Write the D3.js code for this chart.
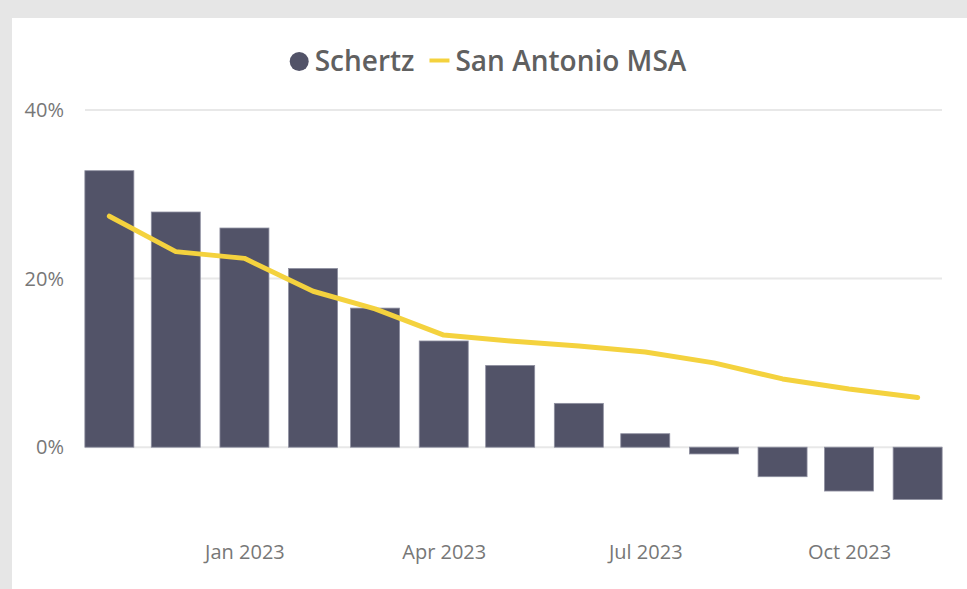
<!DOCTYPE html>
<html>
<head>
<meta charset="utf-8">
<script src="https://cdn.jsdelivr.net/npm/d3@7/dist/d3.min.js"></script>
<style>
  html, body { margin: 0; padding: 0; background: #e6e6e6; }
  svg { display: block; }
  text { font-family: "Open Sans", "Noto Sans", sans-serif; }
</style>
</head>
<body>
<svg id="chart" width="967" height="589"></svg>
<script>
// Monthly year-over-year change, Nov 2022 – Nov 2023
const months = ["2022-11", "2022-12", "2023-01", "2023-02", "2023-03", "2023-04", "2023-05",
                "2023-06", "2023-07", "2023-08", "2023-09", "2023-10", "2023-11"];
const schertz = [32.8, 27.9, 26.0, 21.2, 16.5, 12.6, 9.7, 5.2, 1.6, -0.8, -3.5, -5.2, -6.2];
const sanAntonio = [27.4, 23.2, 22.4, 18.5, 16.4, 13.3, 12.6, 12.0, 11.3, 10.0, 8.1, 6.9, 5.9];
const yTicks = [0, 20, 40];
const xTicks = ["2023-01", "2023-04", "2023-07", "2023-10"];
const seriesNames = ["Schertz", "San Antonio MSA"];

const parseMonth = d3.timeParse("%Y-%m");
const dates = months.map(parseMonth);

const svg = d3.select("#chart");
const W = 967, H = 589;

// white card
svg.append("rect").attr("x", 12).attr("y", 18).attr("width", W - 12).attr("height", H - 18).attr("fill", "#ffffff");

const x = d3.scaleTime()
  .domain([d3.timeDay.offset(dates[0], -11), d3.timeDay.offset(dates[dates.length - 1], 11)])
  .range([85, 942]);
const y = d3.scaleLinear().domain([-10, 40]).range([531.5, 110]);
const barW = 49;

// gridlines
svg.append("g").selectAll("line").data(yTicks).join("line")
  .attr("x1", 85).attr("x2", 942)
  .attr("y1", d => y(d)).attr("y2", d => y(d))
  .attr("stroke", "#e8e8e8").attr("stroke-width", 2);

// y axis labels
const yAxis = d3.axisLeft(y).tickValues(yTicks).tickFormat(d => d + "%").tickSize(0).tickPadding(0);
const gy = svg.append("g").attr("transform", "translate(64,0)").call(yAxis);
gy.select(".domain").remove();
gy.selectAll("text").attr("fill", "#777777").style("font-size", "20px").style("font-family", "'Open Sans', sans-serif");

// x axis labels
const xAxis = d3.axisBottom(x).tickValues(xTicks.map(parseMonth)).tickFormat(d3.timeFormat("%b %Y")).tickSize(0).tickPadding(0);
const gx = svg.append("g").attr("transform", "translate(0,545)").call(xAxis);
gx.select(".domain").remove();
gx.selectAll("text").attr("fill", "#777777").style("font-size", "20px").style("font-family", "'Open Sans', sans-serif");

// bars
svg.append("g").selectAll("rect").data(schertz).join("rect")
  .attr("x", (d, i) => x(dates[i]) - barW / 2)
  .attr("width", barW)
  .attr("y", d => y(Math.max(0, d)))
  .attr("height", d => Math.abs(y(d) - y(0)))
  .attr("fill", "#525368")
  .attr("stroke", "#8e8fa0")
  .attr("stroke-width", 0.8);

// line
const line = d3.line().x((d, i) => x(dates[i])).y(d => y(d));
svg.append("path").datum(sanAntonio)
  .attr("d", line)
  .attr("fill", "none")
  .attr("stroke", "#f4d23e")
  .attr("stroke-width", 5)
  .attr("stroke-linejoin", "round")
  .attr("stroke-linecap", "round");

// legend
const legend = svg.append("g");
const ly = 61.5;
const t1 = legend.append("text").text(seriesNames[0])
  .attr("y", ly).attr("dy", "0.35em")
  .attr("fill", "#606060").style("font-size", "28px").style("font-weight", 600);
const t2 = legend.append("text").text(seriesNames[1])
  .attr("y", ly).attr("dy", "0.35em")
  .attr("fill", "#606060").style("font-size", "28px").style("font-weight", 600);
const w1 = t1.node().getComputedTextLength();
const w2 = t2.node().getComputedTextLength();
const r = 9.5, gapA = 6, gapB = 15, dashW = 20, gapC = 6;
const total = 2 * r + gapA + w1 + gapB + dashW + gapC + w2;
let cx = 488 - total / 2;
legend.append("circle").attr("cx", cx + r).attr("cy", ly).attr("r", r).attr("fill", "#525368");
cx += 2 * r + gapA;
t1.attr("x", cx);
cx += w1 + gapB;
legend.append("line").attr("x1", cx).attr("x2", cx + dashW).attr("y1", ly - 1).attr("y2", ly - 1)
  .attr("stroke", "#f4d23e").attr("stroke-width", 4);
cx += dashW + gapC;
t2.attr("x", cx);
</script>
</body>
</html>
